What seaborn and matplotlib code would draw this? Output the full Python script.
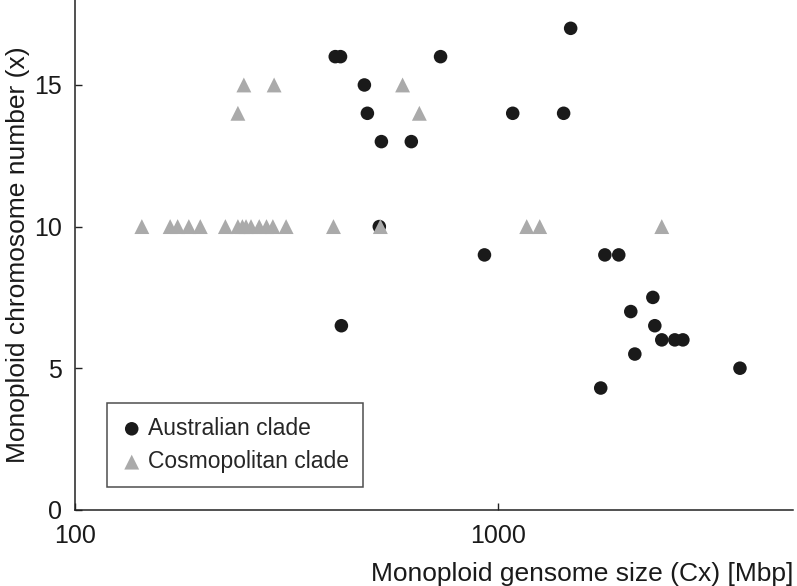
import pandas as pd
import numpy as np
import matplotlib
matplotlib.use("Agg")
import matplotlib.pyplot as plt
import seaborn as sns

# Australian clade (black circles)
aus_size = [413, 425, 484, 492, 531, 525, 1489, 733, 1086, 1433, 625,
            931, 1794, 1935, 2330, 2066, 2355, 2446, 2626, 2744, 2112,
            1754, 3745, 427]
aus_chrom = [16, 16, 15, 14, 13, 10, 17, 16, 14, 14, 13,
             9, 9, 9, 7.5, 7, 6.5, 6, 6, 6, 5.5,
             4.3, 5, 6.5]

# Cosmopolitan clade (grey triangles)
cos_size = [251, 296, 243, 596, 653,
            144, 168, 175, 186, 198, 227, 243, 249, 254, 261, 273, 284,
            294, 316, 409, 528, 1172, 1258, 2446]
cos_chrom = [15, 15, 14, 15, 14,
             10, 10, 10, 10, 10, 10, 10, 10, 10, 10, 10, 10,
             10, 10, 10, 10, 10, 10, 10]

aus = pd.DataFrame({"Cx": aus_size, "x": aus_chrom})
cos = pd.DataFrame({"Cx": cos_size, "x": cos_chrom})

sns.set_style("ticks")
plt.rcParams["font.family"] = ["Liberation Sans", "DejaVu Sans"]

fig = plt.figure(figsize=(7.97, 5.86), dpi=100)
ax = fig.add_axes([0.094, 0.13, 0.901, 0.87])

sns.scatterplot(data=aus, x="Cx", y="x", ax=ax, marker="o", s=95,
                color="#1a1a1a", edgecolor="none", label="Australian clade",
                zorder=2)
sns.scatterplot(data=cos, x="Cx", y="x", ax=ax, marker="^", s=115,
                color="#aaaaaa", edgecolor="none", label="Cosmopolitan clade",
                zorder=3)

ax.set_xscale("log")
ax.set_xlim(100, 5000)
ax.set_ylim(0, 18)
ax.set_xticks([100, 1000])
ax.set_xticklabels(["100", "1000"])
ax.xaxis.set_minor_locator(matplotlib.ticker.NullLocator())
ax.set_yticks([0, 5, 10, 15])

for side in ["top", "right"]:
    ax.spines[side].set_visible(False)
for side in ["left", "bottom"]:
    ax.spines[side].set_linewidth(1.1)
    ax.spines[side].set_color("#222222")

ax.tick_params(direction="in", length=5, width=1, colors="#222222",
               labelsize=18, labelcolor="#1a1a1a")
ax.tick_params(axis="x", pad=10)
ax.tick_params(axis="y", pad=9.5)

ax.set_xlabel("Monoploid gensome size (Cx) [Mbp]", fontsize=19,
              loc="right", labelpad=10, color="#1a1a1a")
ax.set_ylabel("Monoploid chromosome number (x)", fontsize=19,
              labelpad=3, color="#1a1a1a")

leg = ax.legend(loc="lower left", bbox_to_anchor=(0.044, 0.045),
                borderaxespad=0, fontsize=16.5, frameon=True, fancybox=False,
                handletextpad=0.2, borderpad=0.6, labelspacing=0.45,
                handlelength=1.0)
leg.get_frame().set_edgecolor("#222222")
leg.get_frame().set_linewidth(1.1)

fig.savefig("out.png", dpi=100)
